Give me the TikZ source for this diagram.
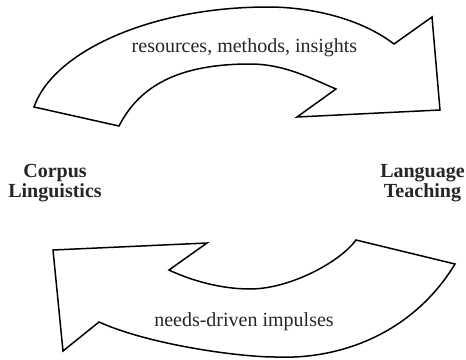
\documentclass[tikz,border=0pt]{standalone}
\usepackage{fontspec}
\setmainfont{Liberation Serif}
\begin{document}
\begin{tikzpicture}[x=1pt,y=-1pt,
  bigarrow/.style={draw=black, line width=1.5pt, fill=white, line join=miter},
  flowlabel/.style={font=\fontsize{20}{24}\selectfont, anchor=base, inner sep=0pt, text=black!85},
  fieldlabel/.style={font=\fontsize{20}{20.5}\selectfont\bfseries, align=center, anchor=base, inner sep=0pt, text=black!85}]
\useasboundingbox (0,0) rectangle (466,359);

% top arrow: Corpus Linguistics -> Language Teaching
\path[bigarrow] (34,107)
  .. controls (53,52) and (150,7) .. (268,7)
  .. controls (310,7) and (360,18) .. (394,44)
  -- (432,17) -- (440,110) -- (297,117) -- (336,89)
  .. controls (312,79) and (285,64) .. (250,64)
  .. controls (180,64) and (140,85) .. (119,126)
  -- cycle;

% bottom arrow: Language Teaching -> Corpus Linguistics
\path[bigarrow] (455,264)
  .. controls (415,330) and (345,360) .. (275,357)
  .. controls (240,357) and (150,345) .. (99,322)
  -- (63,351) -- (53,250) -- (207,243) -- (169,270)
  .. controls (190,280) and (220,289) .. (250,289)
  .. controls (290,289) and (340,262) .. (356,240)
  -- cycle;

\node[flowlabel] (top) at (244.5,52) {resources, methods, insights};
\node[flowlabel] (bottom) at (244,326) {needs-driven impulses};

\node[fieldlabel] (cl) at (55,197.5) {Corpus\\Linguistics};
\node[fieldlabel] (lt) at (422.5,197.5) {Language\\Teaching};
\end{tikzpicture}
\end{document}
